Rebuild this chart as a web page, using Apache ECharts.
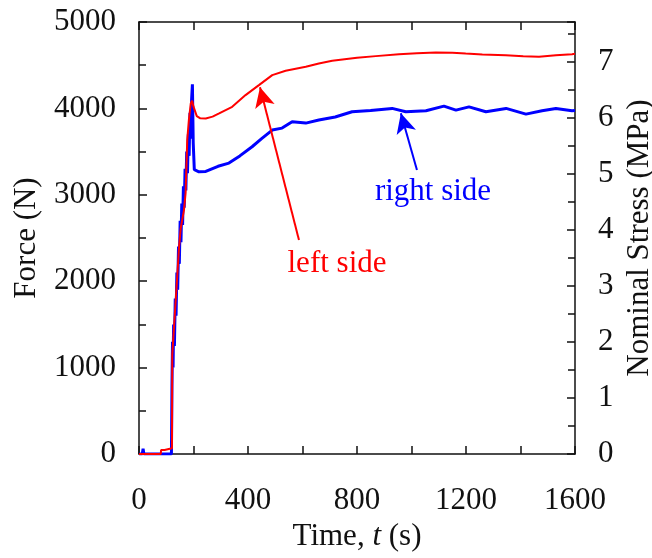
<!DOCTYPE html>
<html>
<head>
<meta charset="utf-8">
<script src="https://cdn.jsdelivr.net/npm/echarts@6/dist/echarts.min.js"></script>
<style>
  html, body { margin: 0; padding: 0; background: #fff; }
  #chart { width: 652px; height: 558px; }
</style>
</head>
<body>
<div id="chart"></div>
<script>
  // force (N) vs time (s)
  var leftTime = [0, 80, 81, 94, 95, 121, 122, 132, 141, 147, 153, 165, 171, 177, 183, 190, 195, 200, 212, 225, 245, 270, 294, 342, 391, 440, 489, 538, 612, 660, 709, 800, 869, 954, 1020, 1089, 1150, 1199, 1260, 1346, 1410, 1468, 1530, 1589, 1600]
  var leftForce = [0, 0, 46, 46, 66, 66, 1145, 1647, 2091, 2399, 2611, 2823, 3019, 3633, 3864, 4057, 4090, 4020, 3910, 3885, 3884, 3905, 3942, 4018, 4154, 4269, 4385, 4435, 4481, 4520, 4551, 4585, 4605, 4628, 4638, 4648, 4645, 4636, 4625, 4616, 4605, 4597, 4615, 4628, 4632]

  var rightTime = [0, 12, 15, 18, 119, 120, 121, 123, 125, 127, 130, 133, 136, 139, 142, 145, 148, 151, 154, 157, 160, 163, 166, 169, 172, 175, 178, 181, 184, 187, 190, 193, 196, 199, 203, 220, 245, 290, 330, 370, 415, 450, 489, 525, 562, 612, 660, 720, 782, 850, 929, 979, 1053, 1119, 1163, 1211, 1273, 1347, 1420, 1479, 1530, 1589, 1600]
  var rightForce = [0, 0, 60, 0, 0, 0, 800, 1300, 1000, 1500, 1250, 1800, 1600, 2100, 1900, 2400, 2200, 2700, 2450, 2900, 2650, 3100, 2850, 3300, 3050, 3500, 3250, 3700, 3450, 3950, 3650, 4100, 4280, 3600, 3290, 3266, 3270, 3330, 3367, 3450, 3556, 3650, 3749, 3772, 3845, 3830, 3865, 3900, 3961, 3975, 4000, 3961, 3973, 4026, 3980, 4018, 3961, 4000, 3934, 3972, 4000, 3972, 3975]

  // annotation arrows: [tail, head] in (t, F)
  var leftArrow = [[587, 2476], [444, 4246]]
  var rightArrow = [[1020, 3286], [961, 3945]]

  var stressMax = 5000 / 648  // right axis: 1 MPa = 648 N

  function pairs(xs, ys) {
    return xs.map(function (x, i) { return [x, ys[i]] })
  }

  var font = 'Liberation Serif'
  var fs = 31
  var ink = '#111'
  var chart = echarts.init(document.getElementById('chart'))

  var lineStyle = { color: ink, width: 1.5 }
  var tickStyle = { show: true, inside: true, length: 8, lineStyle: lineStyle }
  var minorStyle = { show: true, splitNumber: 2, length: 7, lineStyle: lineStyle }

  var option = {
    animation: false,
    grid: { left: 139, right: 77, top: 22, bottom: 104, containLabel: false, outerBoundsMode: 'none' },
    xAxis: [{
      type: 'value', min: 0, max: 1600, interval: 200,
      axisLine: { onZero: false, lineStyle: lineStyle },
      axisTick: tickStyle,
      splitLine: { show: false },
      axisLabel: {
        fontFamily: font, fontSize: fs, color: ink, margin: 31,
        formatter: function (v) { return v % 400 === 0 ? String(v) : '' }
      },
      name: '{a|Time, }{b|t}{a| (s)}',
      nameLocation: 'middle', nameGap: 64,
      nameTextStyle: {
        rich: {
          a: { fontFamily: font, fontSize: fs, color: ink },
          b: { fontFamily: font, fontSize: fs, color: ink, fontStyle: 'italic' }
        }
      }
    }, {
      type: 'value', position: 'top', min: 0, max: 1600, interval: 200,
      axisLine: { show: true, onZero: false, lineStyle: lineStyle },
      axisTick: tickStyle,
      axisLabel: { show: false },
      splitLine: { show: false }
    }],
    yAxis: [{
      type: 'value', min: 0, max: 5000, interval: 1000,
      axisLine: { show: true, onZero: false, lineStyle: lineStyle },
      axisTick: tickStyle,
      minorTick: minorStyle,
      splitLine: { show: false },
      axisLabel: {
        fontFamily: font, fontSize: fs, color: ink, margin: 23,
        formatter: function (v) { return String(v) }
      },
      name: 'Force (N)', nameLocation: 'middle', nameGap: 97,
      nameTextStyle: { fontFamily: font, fontSize: fs, color: ink }
    }, {
      type: 'value', position: 'right', min: 0, max: stressMax, interval: 1,
      axisLine: { show: true, onZero: false, lineStyle: lineStyle },
      axisTick: tickStyle,
      minorTick: minorStyle,
      splitLine: { show: false },
      axisLabel: {
        fontFamily: font, fontSize: fs, color: ink, margin: 23, showMaxLabel: false,
        formatter: function (v) { return Math.abs(v - Math.round(v)) < 1e-6 ? String(Math.round(v)) : '' }
      },
      name: 'Nominal Stress (MPa)', nameLocation: 'middle', nameGap: 45,
      nameTextStyle: { fontFamily: font, fontSize: fs, color: ink }
    }],
    series: [{
      name: 'right side', type: 'line', showSymbol: false,
      data: pairs(rightTime, rightForce),
      lineStyle: { color: '#0000ff', width: 3 },
      itemStyle: { color: '#0000ff' },
      markLine: {
        silent: true, symbol: ['none', 'arrow'], symbolSize: [15, 20],
        label: { show: false },
        lineStyle: { color: '#0000ff', width: 2, type: 'solid' },
        data: [[{ coord: rightArrow[0] }, { coord: rightArrow[1] }]]
      }
    }, {
      name: 'left side', type: 'line', showSymbol: false,
      data: pairs(leftTime, leftForce),
      lineStyle: { color: '#ff0000', width: 2 },
      itemStyle: { color: '#ff0000' },
      markLine: {
        silent: true, symbol: ['none', 'arrow'], symbolSize: [15, 20],
        label: { show: false },
        lineStyle: { color: '#ff0000', width: 2, type: 'solid' },
        data: [[{ coord: leftArrow[0] }, { coord: leftArrow[1] }]]
      }
    }],
    graphic: [{
      type: 'text', x: 337, y: 264,
      style: { text: 'left side', fill: '#ff0000', font: fs + 'px "Liberation Serif"', textAlign: 'center', textVerticalAlign: 'middle' }
    }, {
      type: 'text', x: 433, y: 192,
      style: { text: 'right side', fill: '#0000ff', font: fs + 'px "Liberation Serif"', textAlign: 'center', textVerticalAlign: 'middle' }
    }]
  }

  chart.setOption(option)
</script>
</body>
</html>
